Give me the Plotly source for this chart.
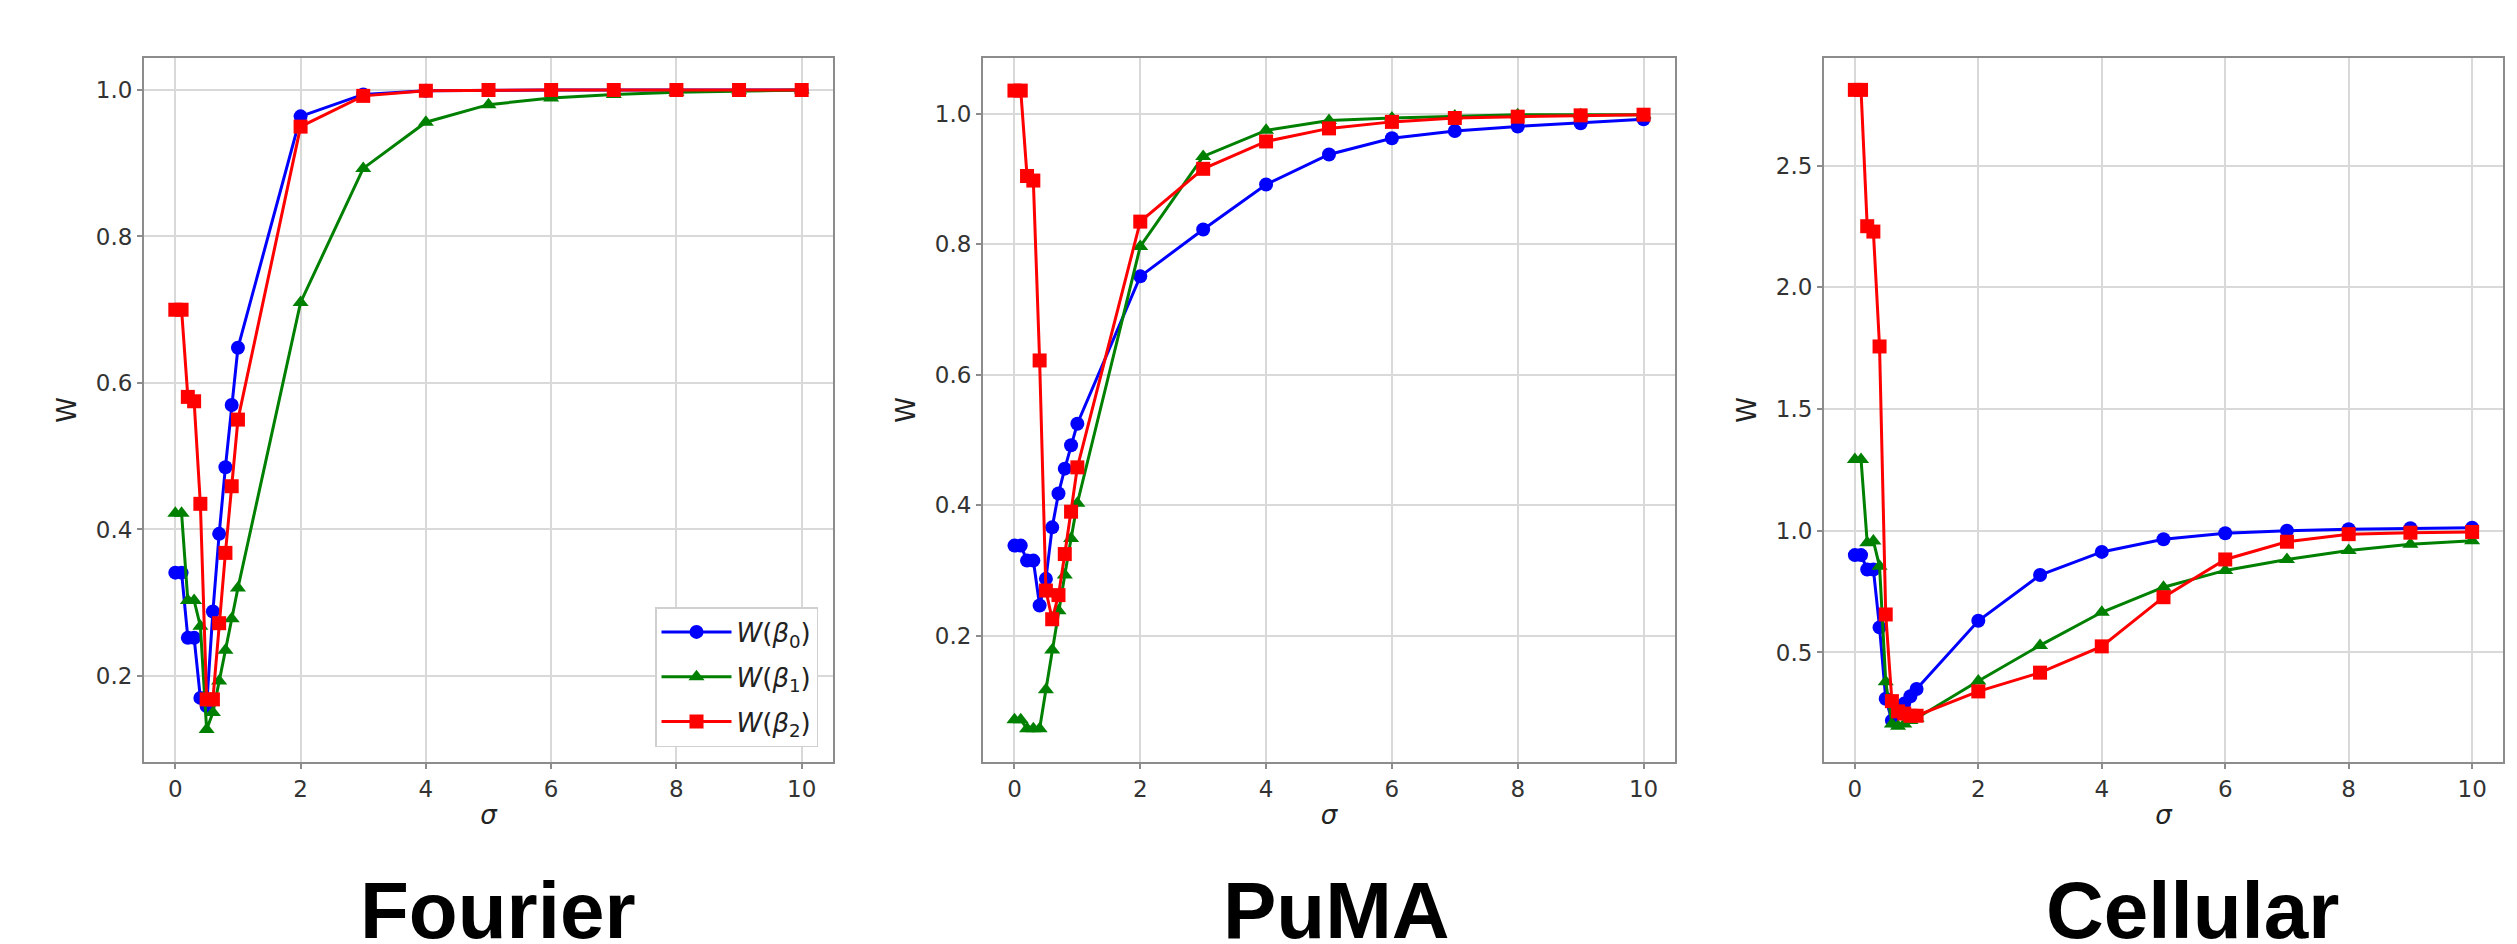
import plotly.graph_objects as go

sigma = [0, 0.1, 0.2, 0.3, 0.4, 0.5, 0.6, 0.7, 0.8, 0.9, 1.0, 2, 3, 4, 5, 6, 7, 8, 9, 10]

fourier_b0 = [0.341, 0.341, 0.252, 0.252, 0.170, 0.159, 0.288, 0.394, 0.485, 0.570, 0.648, 0.964, 0.994, 0.999, 1.0, 1.0, 1.0, 1.0, 1.0, 1.0]
fourier_b1 = [0.422, 0.422, 0.303, 0.303, 0.268, 0.127, 0.150, 0.193, 0.235, 0.278, 0.320, 0.710, 0.893, 0.956, 0.980, 0.989, 0.994, 0.997, 0.999, 1.0]
fourier_b2 = [0.700, 0.700, 0.581, 0.575, 0.435, 0.168, 0.168, 0.272, 0.368, 0.459, 0.550, 0.950, 0.992, 0.999, 1.0, 1.0, 1.0, 1.0, 1.0, 1.0]

puma_b0 = [0.338, 0.338, 0.315, 0.315, 0.246, 0.287, 0.366, 0.418, 0.456, 0.492, 0.525, 0.751, 0.823, 0.892, 0.938, 0.963, 0.974, 0.981, 0.986, 0.992]
puma_b1 = [0.071, 0.071, 0.057, 0.057, 0.057, 0.117, 0.178, 0.238, 0.293, 0.349, 0.403, 0.797, 0.935, 0.975, 0.990, 0.994, 0.997, 0.999, 0.999, 0.999]
puma_b2 = [1.036, 1.036, 0.905, 0.898, 0.622, 0.269, 0.225, 0.262, 0.325, 0.390, 0.458, 0.835, 0.916, 0.958, 0.978, 0.988, 0.994, 0.996, 0.998, 0.999]

cell_b0 = [0.900, 0.900, 0.841, 0.841, 0.603, 0.310, 0.220, 0.260, 0.290, 0.320, 0.350, 0.630, 0.818, 0.913, 0.965, 0.990, 1.000, 1.006, 1.010, 1.012]
cell_b1 = [1.293, 1.293, 0.951, 0.958, 0.854, 0.380, 0.206, 0.197, 0.206, 0.220, 0.230, 0.383, 0.529, 0.665, 0.768, 0.837, 0.882, 0.919, 0.944, 0.959]
cell_b2 = [2.811, 2.811, 2.251, 2.229, 1.757, 0.656, 0.300, 0.258, 0.249, 0.240, 0.240, 0.340, 0.417, 0.525, 0.727, 0.882, 0.955, 0.986, 0.992, 0.995]

panel_titles = ["Fourier", "PuMA", "Cellular"]
series_names = ["<i>W</i>(<i>β</i><sub>0</sub>)", "<i>W</i>(<i>β</i><sub>1</sub>)", "<i>W</i>(<i>β</i><sub>2</sub>)"]
series_colors = ["#0000ff", "#008000", "#ff0000"]
series_symbols = ["circle", "triangle-up", "square"]

panels = [
    (fourier_b0, fourier_b1, fourier_b2),
    (puma_b0, puma_b1, puma_b2),
    (cell_b0, cell_b1, cell_b2),
]

W, H = 2517, 944
x_domains = [(136, 825), (975, 1667), (1816, 2495)]
y_top, y_bot = 50, 754
y_ranges = [(0.0825, 1.0437), (0.006, 1.086), (0.05, 2.942)]
y_dticks = [0.2, 0.2, 0.5]
title_centers = [490, 1328, 2184]

fig = go.Figure()
for p, data in enumerate(panels):
    sfx = "" if p == 0 else str(p + 1)
    for s, vals in enumerate(data):
        fig.add_trace(go.Scatter(
            x=sigma, y=vals, mode="lines+markers",
            name=series_names[s], legendgroup=series_names[s],
            showlegend=(p == 0),
            line=dict(color=series_colors[s], width=3),
            marker=dict(symbol=series_symbols[s], size=14, color=series_colors[s],
                        line=dict(width=0)),
            xaxis="x" + sfx, yaxis="y" + sfx,
        ))

tickfont = dict(family="DejaVu Sans", size=23, color="#333333")
axis_common = dict(
    showline=True, mirror=True, linecolor="#8c8c8c", linewidth=2,
    showgrid=True, gridcolor="#d9d9d9", gridwidth=1.5,
    ticks="outside", ticklen=5, tickwidth=1.5, tickcolor="#8c8c8c",
    zeroline=False, tickfont=tickfont,
)

layout = dict(
    width=W, height=H, margin=dict(l=0, r=0, t=0, b=0),
    paper_bgcolor="white", plot_bgcolor="white",
    showlegend=True,
    legend=dict(
        x=810 / W, y=1 - 739 / H, xanchor="right", yanchor="bottom",
        bgcolor="white", bordercolor="#d0d0d0", borderwidth=1.5,
        font=dict(family="DejaVu Sans", size=26, color="#222222"),
        itemwidth=70, traceorder="grouped", tracegroupgap=8,
    ),
)
annotations = []
for p in range(3):
    sfx = "" if p == 0 else str(p + 1)
    x0, x1 = x_domains[p]
    layout["xaxis" + sfx] = dict(
        domain=[x0 / W, x1 / W], range=[-0.5, 10.5], dtick=2, tick0=0,
        anchor="y" + sfx,
        title=dict(text="<i>σ</i>", font=dict(family="DejaVu Sans", size=26, color="#222222"), standoff=5),
        **axis_common,
    )
    layout["yaxis" + sfx] = dict(
        domain=[1 - y_bot / H, 1 - y_top / H], range=list(y_ranges[p]),
        dtick=y_dticks[p], tick0=0, tickformat=".1f",
        anchor="x" + sfx,
        title=dict(text="W", font=dict(family="DejaVu Sans", size=26, color="#222222"), standoff=12),
        **axis_common,
    )
    annotations.append(dict(
        text="<b>" + panel_titles[p] + "</b>", x=title_centers[p] / W, y=1 - 902 / H,
        xref="paper", yref="paper", xanchor="center", yanchor="middle",
        showarrow=False, font=dict(family="Liberation Sans", size=80, color="black"),
    ))
layout["annotations"] = annotations
fig.update_layout(**layout)

fig.write_html("out.html")
